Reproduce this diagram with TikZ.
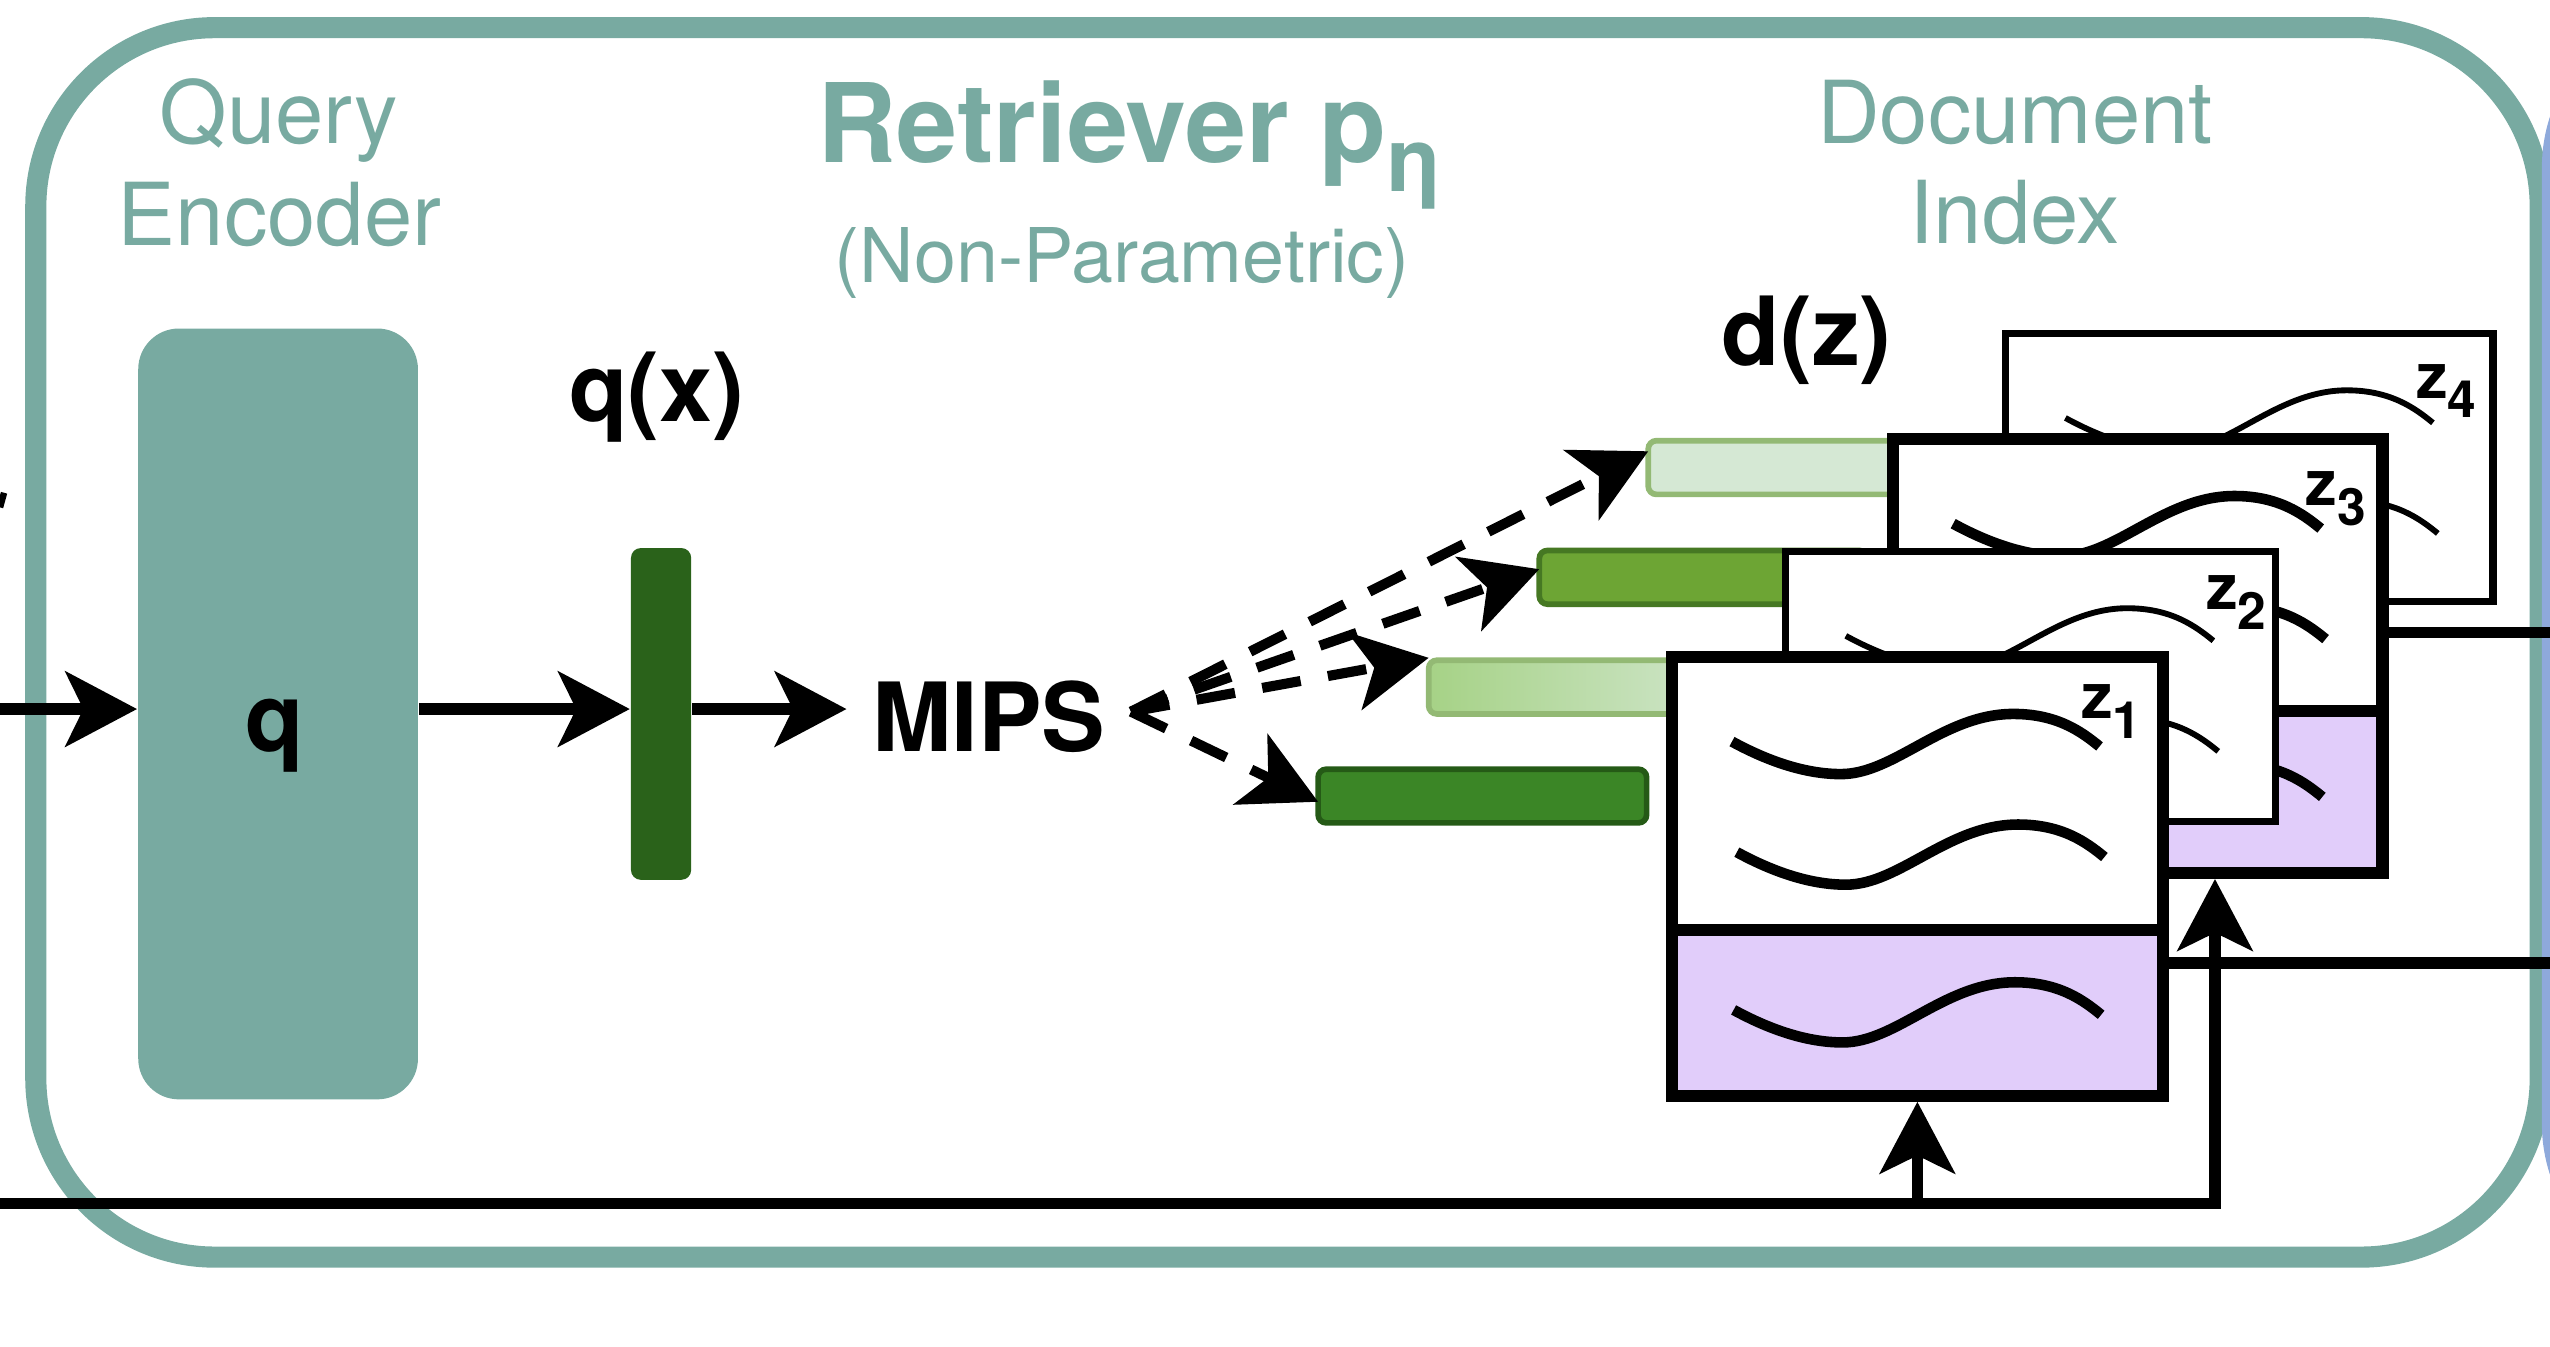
\documentclass[tikz,border=0pt]{standalone}
\usepackage{fontspec}
\setmainfont{TeX Gyre Heros}
\usetikzlibrary{arrows.meta,calc}
\definecolor{tealc}{HTML}{78AAA1}
\definecolor{bluec}{HTML}{8EA9DB}
\definecolor{lavc}{HTML}{E1CDFA}
\definecolor{qgreen}{HTML}{2A621A}
\definecolor{gAfill}{HTML}{D5E8D4}
\definecolor{gAdraw}{HTML}{93B974}
\definecolor{gBfill}{HTML}{6DA534}
\definecolor{gBdraw}{HTML}{467823}
\definecolor{gCleft}{HTML}{A6D286}
\definecolor{gDfill}{HTML}{3B8626}
\definecolor{gDdraw}{HTML}{255A16}
\newcommand{\docwave}[3]{\draw[line width=#3, shift={(#1,#2)}] (0,0) .. controls (22,12) and (45,20) .. (67,20) .. controls (100,20) and (130,-17) .. (173,-17) .. controls (200,-17) and (215,-6) .. (226,3);}
\newcommand{\zsub}[1]{z\raisebox{-3.4pt}{\fontsize{9}{9}\selectfont #1}}
\begin{document}
\begin{tikzpicture}[x=0.1mm,y=-0.1mm,
  lbl/.style={inner sep=0pt, anchor=base},
  tealtxt/.style={lbl, text=tealc, font=\fontsize{15.2}{17}\selectfont},
  boldtxt/.style={lbl, font=\fontsize{16.7}{18}\selectfont\bfseries},
  zlabel/.style={inner sep=0pt, anchor=base west, font=\fontsize{11}{12}\selectfont\bfseries},
  conn/.style={line width=0.72mm},
  solidtip/.style={-{Stealth[length=4.4mm,width=4.6mm,inset=1.1mm]}},
  dashconn/.style={line width=0.62mm, dash pattern=on 2.4mm off 1.7mm, -{Stealth[length=4.6mm,width=4.8mm,inset=1.2mm]}},
  vecbar/.style={rounded corners=0.5mm, line width=0.35mm, inner sep=0pt, outer sep=0pt, minimum width=20.2mm, minimum height=3.3mm},
  docbox/.style={fill=white, inner sep=0pt, outer sep=0pt},
  thickline/.style={line width=0.75mm},
  thinline/.style={line width=0.45mm},
]
\useasboundingbox (0,0) rectangle (1568,828);
\clip (0,0) rectangle (1568,828);

% container
\node[draw=tealc, line width=1.3mm, rounded corners=11mm, minimum width=154mm, minimum height=75.6mm, inner sep=0pt] (retr) at (792,395) {};
\node[fill=bluec, rounded corners=10mm, minimum width=23.7mm, minimum height=78.8mm, inner sep=0pt] (gen) at (1681.5,397) {};

% titles
\node[tealtxt] (lq1) at (171.5,88) {Query};
\node[tealtxt] (lq2) at (172,151) {Encoder};
\node[tealtxt] (ld1) at (1239,88) {Document};
\node[tealtxt] (ld2) at (1239,150) {Index};
\node[lbl, anchor=base west, text=tealc, font=\fontsize{19.2}{20}\selectfont\bfseries] (title) at (502,100) {Retriever p\raisebox{-5pt}{\fontsize{15.5}{15}\selectfont η}};
\node[lbl, text=tealc, font=\fontsize{13.2}{14}\selectfont] (subtitle) at (690,174) {(Non-Parametric)};

% query encoder and vector
\node[fill=tealc, rounded corners=2.5mm, minimum width=17.2mm, minimum height=47.4mm, inner sep=0pt] (qenc) at (171,439) {};
\node[boldtxt] (qlab) at (169,462) {q};
\node[fill=qgreen, rounded corners=0.6mm, minimum width=3.7mm, minimum height=20.4mm, inner sep=0pt] (qbar) at (406.5,439) {};
\node[boldtxt] (qx) at (404,259) {q(x)};
\node[boldtxt, inner sep=1.5mm] (mips) at (608,462) {MIPS};
\node[boldtxt] (dz) at (1111,225) {d(z)};

% document vectors
\node[vecbar, fill=gAfill, draw=gAdraw] (bar1) at (1114.5,287.5) {};
\node[vecbar, fill=gBfill, draw=gBdraw] (bar2) at (1047.5,355) {};
\node[vecbar, left color=gCleft, right color=gAfill, draw=gAdraw] (bar3) at (979.5,422.5) {};
\node[vecbar, fill=gDfill, draw=gDdraw] (bar4) at (911.5,489.5) {};

% z4
\node[docbox, minimum width=30mm, minimum height=16.5mm] (z4) at (1383,287.5) {};
\draw[thinline] (z4.south west) rectangle (z4.north east);
\docwave{1270}{257}{0.36mm}
\docwave{1273}{325}{0.36mm}
\node[zlabel] (z4l) at (1485,245) {\zsub{4}};

% z3
\node[docbox, minimum width=30.1mm, minimum height=26.7mm] (z3) at (1314.5,403.5) {};
\fill[lavc] (z3.south west) rectangle (z3.east |- 0,437);
\draw[thickline] (z3.west |- 0,437) -- (z3.east |- 0,437);
\draw[thickline] (z3.south west) rectangle (z3.north east);
\docwave{1201}{322}{0.65mm}
\docwave{1204}{390}{0.65mm}
\docwave{1202}{487}{0.65mm}
\node[zlabel] (z3l) at (1417,311) {\zsub{3}};

% z2
\node[docbox, minimum width=30.1mm, minimum height=16.6mm] (z2) at (1248.5,422) {};
\draw[thinline] (z2.south west) rectangle (z2.north east);
\docwave{1135}{391}{0.36mm}
\docwave{1138}{459}{0.36mm}
\node[zlabel] (z2l) at (1356,375) {\zsub{2}};

% z1
\node[docbox, minimum width=30.2mm, minimum height=27mm] (z1) at (1179,539) {};
\fill[lavc] (z1.south west) rectangle (z1.east |- 0,572);
\draw[thickline] (z1.west |- 0,572) -- (z1.east |- 0,572);
\draw[thickline] (z1.south west) rectangle (z1.north east);
\docwave{1065}{456}{0.65mm}
\docwave{1068}{524}{0.65mm}
\docwave{1066}{621}{0.65mm}
\node[zlabel] (z1l) at (1279,442) {\zsub{1}};

% connectors
\coordinate (inL) at (0,436);
\coordinate (bL) at (0,740);
\coordinate (rA) at (1568,389);
\coordinate (rB) at (1568,592);
\draw[conn, solidtip] (inL) -- (inL -| qenc.west);
\draw[conn, solidtip] (qenc.east |- inL) -- (qbar.west |- inL);
\draw[conn, solidtip] (qbar.east |- inL) -- (mips.west |- inL);

\draw[dashconn] ([yshift=0.3mm]mips.east) -- ([yshift=1mm]bar1.west);
\draw[dashconn] ([yshift=0.3mm]mips.east) -- ([yshift=0.5mm]bar2.west);
\draw[dashconn] ([yshift=0.3mm]mips.east) -- ([yshift=1.8mm]bar3.west);
\draw[dashconn] ([yshift=0.3mm]mips.east) -- ([yshift=-0.35mm]bar4.west);

\draw[conn, solidtip, shorten >=0.35mm] (bL) -| ([xshift=4.75mm]z3.south);
\draw[conn, solidtip, shorten >=0.35mm] (z1.south |- bL) -- (z1.south);
\draw[conn] (rA -| z3.east) -- (rA);
\draw[conn] (rB -| z1.east) -- (rB);

% fragment at left edge
\draw[line width=0.4mm] (0,312) -- (2.5,303);
\end{tikzpicture}
\end{document}
